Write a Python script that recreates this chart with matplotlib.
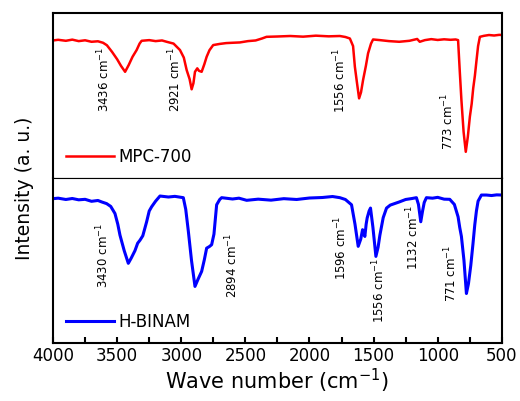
import matplotlib
matplotlib.use("Agg")
import matplotlib.pyplot as plt
import numpy as np

# FTIR spectra (arbitrary intensity units)
wn_mpc = [4000, 3960, 3900, 3850, 3800, 3750, 3700, 3650, 3610, 3580, 3540, 3500, 3470,
          3438, 3410, 3380, 3348, 3325, 3309, 3250, 3200, 3150, 3114, 3060, 3010, 2980,
          2958, 2935, 2919, 2905, 2893, 2875, 2862, 2841, 2820, 2802, 2780, 2751, 2700,
          2650, 2600, 2543, 2480, 2420, 2370, 2335, 2250, 2150, 2050, 1950, 1850, 1763,
          1720, 1685, 1660, 1646, 1630, 1613, 1598, 1582, 1560, 1543, 1520, 1504, 1450,
          1380, 1300, 1220, 1160, 1140, 1100, 1050, 1000, 950, 900, 860, 841, 828, 815,
          798, 781, 765, 749, 735, 723, 710, 697, 685, 671, 640, 600, 560, 520, 500]
int_mpc = [83.4, 83.8, 83.2, 83.9, 83.0, 83.5, 82.6, 82.9, 82.0, 80.5, 76.5, 72.0, 68.0,
           64.4, 68.5, 73.5, 77.6, 81.5, 83.2, 83.6, 83.0, 83.4, 82.6, 81.5, 77.6, 73.0,
           65.5, 60.0, 53.8, 57.5, 64.4, 66.5, 65.0, 64.4, 69.0, 73.5, 77.5, 80.6, 81.3,
           81.8, 82.0, 82.2, 83.0, 83.4, 84.6, 85.6, 85.8, 86.1, 85.7, 86.3, 85.9, 86.1,
           85.5, 84.6, 80.0, 67.5, 58.0, 48.3, 52.0, 59.4, 68.0, 75.6, 81.5, 84.0, 83.6,
           83.0, 82.6, 83.2, 84.3, 82.6, 83.6, 84.2, 83.7, 84.1, 83.8, 84.0, 83.6, 65.0,
           47.3, 28.0, 15.9, 25.0, 37.2, 45.0, 54.4, 62.0, 71.5, 80.0, 85.6, 86.2, 86.7,
           86.4, 86.8, 86.7]

wn_bin = [4000, 3960, 3900, 3850, 3800, 3750, 3700, 3650, 3620, 3582, 3550, 3517, 3495,
          3478, 3445, 3413, 3390, 3361, 3340, 3322, 3300, 3270, 3250, 3231, 3200, 3166,
          3100, 3050, 2984, 2965, 2945, 2920, 2893, 2870, 2841, 2820, 2802, 2780, 2763,
          2745, 2724, 2700, 2685, 2600, 2550, 2490, 2400, 2300, 2200, 2100, 2000, 1900,
          1820, 1763, 1720, 1690, 1672, 1645, 1620, 1600, 1586, 1575, 1568, 1558, 1550,
          1535, 1524, 1505, 1482, 1465, 1451, 1425, 1399, 1370, 1348, 1300, 1250, 1200,
          1166, 1150, 1132, 1118, 1105, 1088, 1040, 1000, 950, 906, 870, 841, 828, 815,
          795, 776, 760, 742, 725, 711, 698, 685, 659, 620, 580, 540, 500]
int_bin = [87.5, 87.8, 87.0, 87.6, 86.8, 87.1, 85.9, 86.4, 85.5, 84.5, 82.8, 78.5, 72.0,
           65.4, 56.0, 48.3, 51.5, 56.0, 60.5, 62.3, 65.0, 73.5, 80.0, 82.6, 86.0, 89.1,
           88.5, 88.9, 88.1, 81.0, 67.9, 50.0, 34.3, 38.5, 43.4, 50.5, 57.5, 58.5, 59.6,
           66.0, 83.8, 87.0, 88.1, 87.3, 87.8, 86.5, 87.2, 86.6, 87.5, 87.0, 87.9, 88.2,
           88.8, 88.1, 87.0, 85.0, 83.8, 72.0, 58.6, 63.0, 68.7, 66.0, 64.6, 72.0, 75.8,
           80.0, 81.8, 70.0, 52.5, 58.0, 65.3, 76.0, 81.8, 83.6, 84.2, 85.5, 87.0, 87.6,
           88.1, 84.0, 73.5, 80.0, 85.2, 88.1, 87.8, 88.3, 87.2, 87.1, 84.0, 76.5, 70.0,
           64.6, 50.0, 30.0, 36.0, 47.0, 60.0, 71.5, 80.0, 86.0, 89.7, 89.7, 89.4, 89.8,
           89.7]

# peak labels: (text, x position, bottom of rotated text)
labels_mpc = [("3436 cm$^{-1}$", 3602, 40), ("2921 cm$^{-1}$", 3049, 40),
              ("1556 cm$^{-1}$", 1763, 39.4), ("773 cm$^{-1}$", 921, 17)]
labels_bin = [("3430 cm$^{-1}$", 3608, 33.3), ("2894 cm$^{-1}$", 2605, 27.3),
              ("1596 cm$^{-1}$", 1755, 38), ("1556 cm$^{-1}$", 1459, 12),
              ("1132 cm$^{-1}$", 1194, 44), ("771 cm$^{-1}$", 897, 25)]

plt.rcParams['font.family'] = ['DejaVu Sans']
plt.rcParams['mathtext.fontset'] = 'dejavusans'

fig = plt.figure(figsize=(5.2, 4.01), dpi=100)
ax1 = fig.add_axes([0.102, 0.556, 0.863, 0.4114])
ax2 = fig.add_axes([0.102, 0.1446, 0.863, 0.4114], sharex=ax1)

ax1.plot(wn_mpc, int_mpc, color='#ff0000', lw=1.8, label='MPC-700')
ax2.plot(wn_bin, int_bin, color='#0000ff', lw=2.2, label='H-BINAM')

for ax, labs in ((ax1, labels_mpc), (ax2, labels_bin)):
    for txt, x, y in labs:
        ax.text(x, y, txt, rotation=90, ha='center', va='bottom', fontsize=8.5)
    ax.set_ylim(0, 100)
    ax.set_yticks([])
    for sp in ax.spines.values():
        sp.set_linewidth(1.5)
    ax.legend(loc='lower left', frameon=False, fontsize=12, handlelength=2.9,
              handletextpad=0.3, borderaxespad=0.35)

ax1.set_xlim(4000, 500)
ax1.tick_params(axis='x', which='both', bottom=False, labelbottom=False)
ax1.spines['bottom'].set_linewidth(0.8)
ax2.spines['top'].set_linewidth(0.8)

ax2.set_xticks(np.arange(4000, 499, -500))
ax2.set_xticks(np.arange(3750, 500, -500), minor=True)
ax2.tick_params(axis='x', which='major', direction='in', length=4, width=1.5, labelsize=12, pad=3)
ax2.tick_params(axis='x', which='minor', direction='in', length=4, width=1.5)
ax2.set_xlabel('Wave number (cm$^{-1}$)', fontsize=15, labelpad=1)

fig.text(0.048, 0.531, 'Intensity (a. u.)', rotation=90, ha='center', va='center', fontsize=13.5)

fig.savefig('out.png', dpi=100)
